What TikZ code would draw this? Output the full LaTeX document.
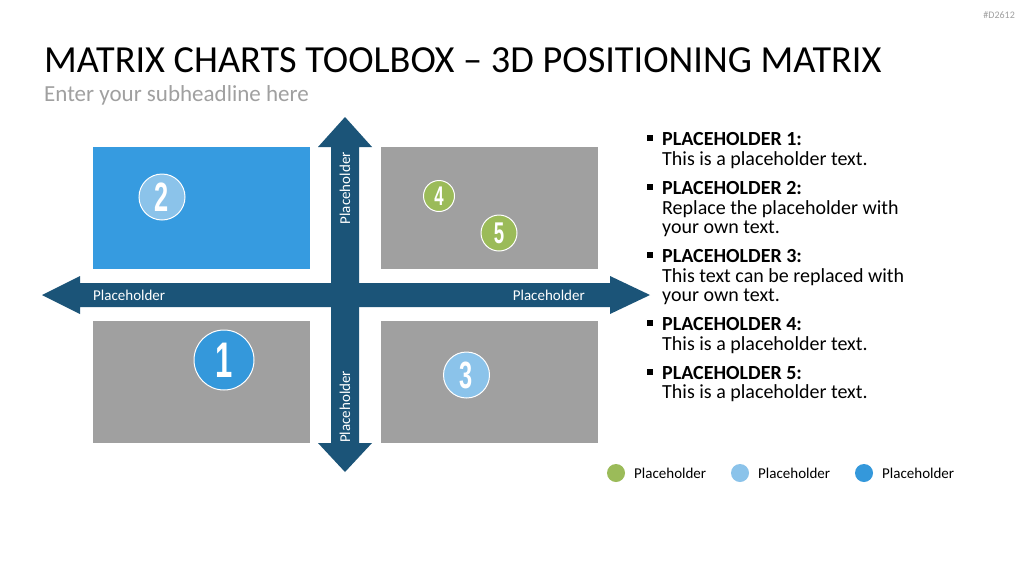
\documentclass[tikz,border=0pt]{standalone}
\usepackage{fontspec}
\setmainfont{Carlito}
\newfontfamily\numfont{Liberation Sans}
\definecolor{arrowblue}{RGB}{27,84,120}
\definecolor{quadblue}{RGB}{54,155,224}
\definecolor{quadgray}{RGB}{160,160,160}
\definecolor{mkgreen}{RGB}{155,187,89}
\definecolor{mklight}{RGB}{139,195,234}
\definecolor{mkblue}{RGB}{52,152,219}
\definecolor{subgray}{RGB}{160,160,160}
\newcommand\digitlabel[2]{\scalebox{0.62}[1]{\numfont\bfseries\fontsize{#1}{#1}\selectfont #2}}
\tikzset{
  quad/.style={rectangle, inner sep=0pt, minimum width=217pt, minimum height=122pt},
  marker/.style={circle, draw=white, line width=1pt, inner sep=0pt, text=white},
  axlabel/.style={text=white, inner sep=0pt, font=\fontsize{15}{18}\selectfont},
  head/.style={anchor=base west, inner sep=0pt, font=\bfseries\fontsize{20}{20}\selectfont},
  body/.style={anchor=base west, inner sep=0pt, font=\fontsize{20}{20}\selectfont},
  bulletsq/.style={fill=black, inner sep=0pt, minimum size=6pt},
  legdot/.style={circle, inner sep=0pt, minimum size=18pt},
  legtext/.style={anchor=west, inner sep=0pt, font=\fontsize{15}{18}\selectfont},
}
\begin{document}
\begin{tikzpicture}[x=1pt,y=-1pt]
\useasboundingbox (0,0) rectangle (1024,576);
\fill[white] (0,0) rectangle (1024,576);

% header
\node[anchor=base east, inner sep=0pt, text=subgray, font=\fontsize{10}{12}\selectfont] (code) at (1015,18) {\#D2612};
\node[anchor=base west, inner sep=0pt, font=\fontsize{38.3}{44}\selectfont] (title) at (44,72) {MATRIX CHARTS TOOLBOX – 3D POSITIONING MATRIX};
\node[anchor=base west, inner sep=0pt, text=subgray, font=\fontsize{23}{28}\selectfont] (sub) at (44,101) {Enter your subheadline here};

% quadrants
\node[quad, fill=quadblue] (q2) at (201.5,208) {};
\node[quad, fill=quadgray] (q45) at (489,208) {};
\node[quad, fill=quadgray] (q1) at (201.5,382) {};
\node[quad, fill=quadgray] (q3) at (489,382) {};

% axes
\fill[arrowblue] (331,147) -- (318,147) -- (345,117) -- (372,147) -- (359,147)
  -- (359,443) -- (372,443) -- (345,472) -- (318,443) -- (331,443) -- cycle;
\fill[arrowblue] (80,283) -- (80,276) -- (42,295) -- (80,314) -- (80,307)
  -- (610,307) -- (610,314) -- (650,295) -- (610,276) -- (610,283) -- cycle;

\node[axlabel, anchor=west] (xl) at (93,295) {Placeholder};
\node[axlabel, anchor=east] (xr) at (585,295) {Placeholder};
\node[axlabel, rotate=90, anchor=east] (yt) at (345,152) {Placeholder};
\node[axlabel, rotate=90, anchor=west] (yb) at (345,443) {Placeholder};

% markers
\node[marker, fill=mklight, minimum size=46pt] (m2) at (162,197) {\digitlabel{41}{2}};
\node[marker, fill=mkblue, minimum size=60pt] (m1) at (224,360) {\digitlabel{50}{1}};
\node[marker, fill=mklight, minimum size=46pt] (m3) at (466.5,375) {\digitlabel{38}{3}};
\node[marker, fill=mkgreen, minimum size=31pt] (m4) at (439,196) {\digitlabel{27}{4}};
\node[marker, fill=mkgreen, minimum size=36pt] (m5) at (499,233) {\digitlabel{30}{5}};

% list
\node[bulletsq] (b1) at (650,138) {};
\node[head] (h1) at (662,145) {PLACEHOLDER 1:};
\node[body] (t1) at (662,165) {This is a placeholder text.};
\node[bulletsq] (b2) at (650,187) {};
\node[head] (h2) at (662,194) {PLACEHOLDER 2:};
\node[body] (t2a) at (662,214) {Replace the placeholder with};
\node[body] (t2b) at (662,233) {your own text.};
\node[bulletsq] (b3) at (650,255) {};
\node[head] (h3) at (662,262) {PLACEHOLDER 3:};
\node[body] (t3a) at (662,282) {This text can be replaced with};
\node[body] (t3b) at (662,301) {your own text.};
\node[bulletsq] (b4) at (650,323) {};
\node[head] (h4) at (662,330) {PLACEHOLDER 4:};
\node[body] (t4) at (662,350) {This is a placeholder text.};
\node[bulletsq] (b5) at (650,372) {};
\node[head] (h5) at (662,379) {PLACEHOLDER 5:};
\node[body] (t5) at (662,398) {This is a placeholder text.};

% legend
\node[legdot, fill=mkgreen] (l1) at (616,473) {};
\node[legtext] (lt1) at (634,473) {Placeholder};
\node[legdot, fill=mklight] (l2) at (740,473) {};
\node[legtext] (lt2) at (758,473) {Placeholder};
\node[legdot, fill=mkblue] (l3) at (864,473) {};
\node[legtext] (lt3) at (882,473) {Placeholder};
\end{tikzpicture}
\end{document}
